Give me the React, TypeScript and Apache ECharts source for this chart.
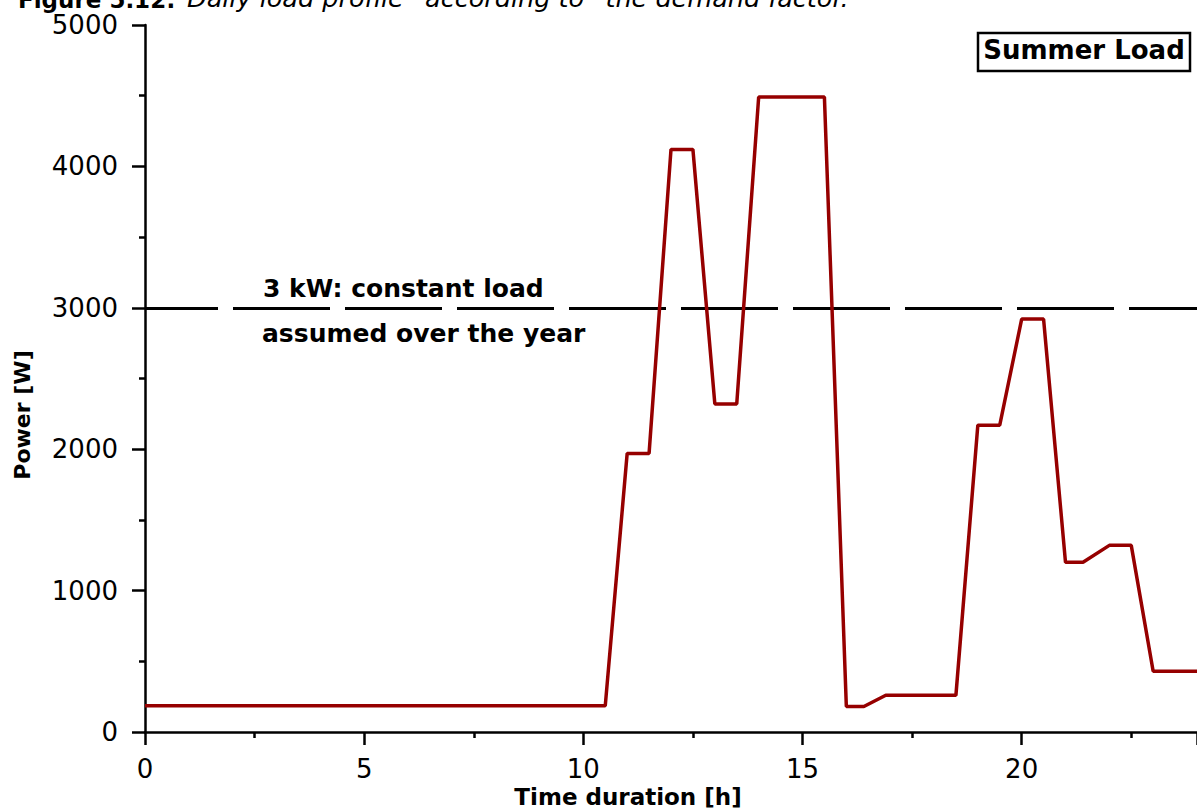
import React, { useEffect, useRef } from "react";
import * as echarts from "echarts";

// Time of day [h]
const hours = [0, 10.5, 11, 11.5, 12, 12.5, 13, 13.5, 14, 15.5, 16, 16.4, 16.9, 18.5, 19, 19.5, 20, 20.5, 21, 21.4, 22, 22.5, 23, 24];
// Summer load [W]
const powerW = [185, 185, 1970, 1970, 4120, 4120, 2320, 2320, 4490, 4490, 180, 180, 260, 260, 2170, 2170, 2920, 2920, 1200, 1200, 1320, 1320, 430, 430];
// Constant load assumption [W]
const constantLoadW = 3000;

const xMin = 0;
const xMax = 24;
const xInterval = 5;
const yMin = 0;
const yMax = 5000;
const yInterval = 1000;

const titleBold = "Figure 5.12:";
const titleItalic = "Daily load profile \u201caccording to\u201d the demand factor.";
const legendText = "Summer Load";
const noteLine1 = "3 kW: constant load";
const noteLine2 = "assumed over the year";
const xName = "Time duration [h]";
const yName = "Power [W]";

const FONT = "DejaVu Sans";

export default function App() {
  const ref = useRef<HTMLDivElement>(null);

  useEffect(() => {
    if (!ref.current) return;
    const chart = echarts.init(ref.current, undefined, { renderer: "svg" });
    const data = hours.map((h, i) => [h, powerW[i]]);

    chart.setOption({
      animation: false,
      backgroundColor: "#ffffff",
      grid: { left: 145, right: 0, top: 25, bottom: 79, containLabel: false },
      xAxis: {
        type: "value",
        min: xMin,
        max: xMax,
        interval: xInterval,
        axisLine: { show: true, lineStyle: { color: "#000", width: 2.5 } },
        axisTick: { show: true, inside: false, length: 13, lineStyle: { color: "#000", width: 2.5 } },
        minorTick: { show: true, splitNumber: 2, length: 6, lineStyle: { color: "#000", width: 2.5 } },
        splitLine: { show: false },
        axisLabel: {
          show: true,
          margin: 24,
          fontFamily: FONT,
          fontSize: 26,
          color: "#000",
          showMaxLabel: false,
          formatter: (v: number) => String(v),
        },
      },
      yAxis: {
        type: "value",
        min: yMin,
        max: yMax,
        interval: yInterval,
        axisLine: { show: true, lineStyle: { color: "#000", width: 2.5 } },
        axisTick: { show: true, inside: false, length: 13, lineStyle: { color: "#000", width: 2.5 } },
        minorTick: { show: true, splitNumber: 2, length: 6, lineStyle: { color: "#000", width: 2.5 } },
        splitLine: { show: false },
        axisLabel: {
          show: true,
          margin: 27,
          fontFamily: FONT,
          fontSize: 26,
          color: "#000",
          formatter: (v: number) => String(v),
        },
      },
      series: [
        {
          type: "line",
          data,
          symbol: "none",
          lineStyle: { color: "#960000", width: 3.5 },
          z: 3,
          markLine: {
            silent: true,
            symbol: ["none", "none"],
            label: { show: false },
            lineStyle: { color: "#000", width: 3, type: [97, 15], dashOffset: 24 },
            data: [{ yAxis: constantLoadW }],
            z: 2,
          },
        },
      ],
      graphic: [
        {
          type: "text",
          x: 18,
          y: 11,
          style: {
            text: titleBold,
            fontFamily: FONT,
            fontSize: 23,
            fontWeight: "bold",
            fill: "#000",
            textAlign: "left",
            textVerticalAlign: "bottom",
          },
        },
        {
          type: "text",
          x: 187,
          y: 11,
          style: {
            text: titleItalic,
            fontFamily: FONT,
            fontSize: 25.5,
            fontStyle: "italic",
            fill: "#000",
            textAlign: "left",
            textVerticalAlign: "bottom",
          },
        },
        {
          type: "rect",
          shape: { x: 978, y: 33, width: 212, height: 38 },
          style: { fill: "#fff", stroke: "#000", lineWidth: 2.5 },
          z: 10,
        },
        {
          type: "text",
          x: 1084,
          y: 50,
          z: 11,
          style: {
            text: legendText,
            fontFamily: FONT,
            fontSize: 26,
            fontWeight: "bold",
            fill: "#000",
            textAlign: "center",
            textVerticalAlign: "middle",
          },
        },
        {
          type: "text",
          x: 263,
          y: 288,
          z: 11,
          style: {
            text: noteLine1,
            fontFamily: FONT,
            fontSize: 25,
            fontWeight: "bold",
            fill: "#000",
            textAlign: "left",
            textVerticalAlign: "middle",
          },
        },
        {
          type: "text",
          x: 262,
          y: 333,
          z: 11,
          style: {
            text: noteLine2,
            fontFamily: FONT,
            fontSize: 25,
            fontWeight: "bold",
            fill: "#000",
            textAlign: "left",
            textVerticalAlign: "middle",
          },
        },
        {
          type: "text",
          x: 628,
          y: 797,
          style: {
            text: xName,
            fontFamily: FONT,
            fontSize: 23,
            fontWeight: "bold",
            fill: "#000",
            textAlign: "center",
            textVerticalAlign: "middle",
          },
        },
        {
          type: "text",
          x: 22,
          y: 415,
          rotation: Math.PI / 2,
          style: {
            text: yName,
            fontFamily: FONT,
            fontSize: 22,
            fontWeight: "bold",
            fill: "#000",
            textAlign: "center",
            textVerticalAlign: "middle",
          },
        },
      ],
    });

    return () => {
      chart.dispose();
    };
  }, []);

  return (
    <div
      ref={ref}
      style={{ position: "absolute", left: 0, top: 0, width: 1197, height: 811, background: "#fff" }}
    />
  );
}
